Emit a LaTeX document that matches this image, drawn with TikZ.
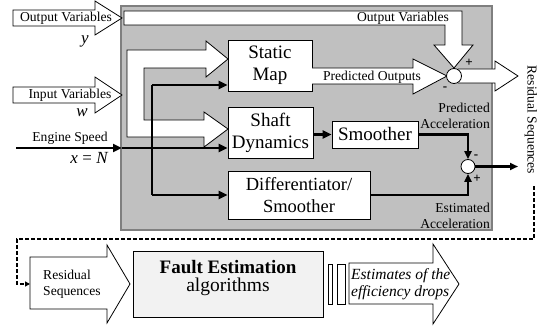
\documentclass[tikz,border=0pt]{standalone}
\usepackage{fontspec}
\setmainfont{Liberation Serif}
\usetikzlibrary{arrows.meta,calc}
\definecolor{panelgray}{HTML}{C0C0C0}
\definecolor{panelborder}{HTML}{7F7F7F}
\definecolor{faultfill}{HTML}{F2F2F2}
\begin{document}
\begin{tikzpicture}[x=1pt,y=-1pt,
  box/.style={draw=black,line width=0.8pt,fill=white,inner sep=0pt,align=center,font=\fontsize{19}{22}\selectfont},
  blockarrow/.style={draw=black,line width=0.8pt,fill=white,line join=miter},
  sig/.style={line width=2.5pt,-{Triangle[length=9pt,width=8pt]}},
  lbl/.style={font=\fontsize{13.6}{16}\selectfont,inner sep=0pt},
  mathlbl/.style={font=\fontsize{17}{20}\selectfont\itshape,inner sep=0pt},
  sumc/.style={circle,draw=black,line width=0.8pt,fill=white,minimum size=15pt,inner sep=0pt},
  pm/.style={font=\fontsize{13}{14}\selectfont\bfseries,inner sep=0pt},
]
\useasboundingbox (0,0) rectangle (543,326);

% panel
\node[draw=panelborder,fill=panelgray,line width=1.5pt,minimum width=371pt,minimum height=224pt,inner sep=0pt] (panel) at (306.5,118) {};

% external input arrows
\draw[blockarrow] (13,10) -- (95,10) -- (95,1) -- (122,18) -- (95,35) -- (95,26) -- (13,26) -- cycle;
\node[lbl] (outvar) at (66,18.5) {Output Variables};
\node[mathlbl] (ylab) at (85,41) {y};

\draw[blockarrow] (13,87) -- (95,87) -- (95,77) -- (122,95) -- (95,113) -- (95,103) -- (13,103) -- cycle;
\node[lbl] (invar) at (70,95.5) {Input Variables};
\node[mathlbl] (wlab) at (82,113) {w};

% top output-variables bar inside the panel
\draw[blockarrow] (124,11) -- (462,11) -- (462,45) -- (473,45) -- (454,68) -- (434,45) -- (445,45) -- (445,25) -- (124,25) -- cycle;
\node[lbl] (outvar2) at (403,18.5) {Output Variables};

% inner bracket arrow (input variables)
\draw[blockarrow] (127,50) -- (206,50) -- (206,41) -- (228,59) -- (206,77) -- (206,68) -- (144,68) -- (144,120) -- (204,120) -- (204,112) -- (228,129) -- (204,147) -- (204,137) -- (127,137) -- cycle;

% boxes
\node[box,minimum width=84pt,minimum height=51pt] (static) at (270,65.5) {Static\\Map};
\node[box,minimum width=85pt,minimum height=51pt] (shaft) at (270.5,132.5) {Shaft\\Dynamics};
\node[box,minimum width=86pt,minimum height=27pt] (smooth) at (375,134.5) {Smoother};
\node[box,font=\fontsize{18.5}{22}\selectfont,minimum width=142pt,minimum height=48pt] (diff) at (299,195) {Differentiator/\\Smoother};

% predicted outputs arrow
\draw[blockarrow] (312,68) -- (413,68) -- (413,59) -- (447,76) -- (413,94) -- (413,84) -- (312,84);
\node[lbl] (predout) at (372,77) {Predicted Outputs};

% residual output arrow
\draw[blockarrow] (458,69) -- (495,69) -- (495,61) -- (518,76) -- (495,91) -- (495,83) -- (458,83);

% summing junctions
\node[sumc] (sum1) at (454,76) {};
\node[pm] at (469,63) {+};
\node[pm] at (445,89) {-};
\node[sumc,minimum size=14pt] (sum2) at (468,166.5) {};
\node[pm] at (476,157) {-};
\node[pm] at (477,179) {+};

% engine speed and branches
\coordinate (esIn) at (16,148);
\coordinate (esBox) at (122,148);
\coordinate (br) at (152,148);
\coordinate (smY) at (152,85);
\coordinate (dfY) at (152,195);
\node[lbl] (eslab) at (70,138.5) {Engine Speed};
\node[mathlbl,anchor=east] (xnlab) at (108,158) {x\hspace{4.5pt}{\upshape=}\hspace{4.5pt}N};
\draw[sig] (esIn) -- (esBox);
\draw[sig] (esBox) -- (shaft.west |- esBox);
\draw[line width=2.5pt] (br) -- (smY);
\draw[sig] (smY) -- (static.west |- smY);
\draw[line width=2.5pt] (br) -- (dfY);
\draw[sig] (dfY) -- (diff.west |- dfY);

\draw[sig] (shaft.east |- smooth.west) -- (smooth.west);
\draw[line width=2.2pt,-{Triangle[length=8pt,width=7pt]}] (smooth.east) -| (sum2.north);
\draw[line width=2.2pt,-{Triangle[length=8pt,width=7pt]}] (diff.east) -| (sum2.south);
\coordinate (resOut) at (518,166.5);
\draw[line width=2.2pt,-{Triangle[length=8pt,width=7pt]}] (sum2.east) -- (resOut);

\node[lbl,align=right,anchor=east] (predacc) at (490,116) {Predicted\\Acceleration};
\node[lbl,align=right,anchor=east] (estacc) at (490,216) {Estimated\\Acceleration};

\node[lbl,rotate=-90] (ressq) at (531,120) {Residual Sequences};

% bottom row
\draw[blockarrow] (30,257) -- (107,257) -- (107,245) -- (130,284) -- (107,323) -- (107,309) -- (30,309) -- cycle;
\coordinate (resIn) at (30,284);
\node[lbl,align=left,anchor=west] (reslab) at (43,284) {Residual\\Sequences};

\node[draw=black,line width=0.8pt,fill=faultfill,minimum width=190pt,minimum height=66pt,inner sep=0pt] (fault) at (228,284) {};
\node[inner sep=0pt,font=\fontsize{19}{20}\selectfont\bfseries] (faulttxt) at (228,267) {Fault Estimation};
\node[inner sep=0pt,font=\fontsize{19.5}{20}\selectfont] (algtxt) at (228,287) {algorithms};

\draw[line width=0.8pt,fill=white] (328,264) rectangle (332,304);
\draw[line width=0.8pt,fill=white] (337,264) rectangle (345,304);

\draw[blockarrow] (349,263) -- (433,263) -- (433,244) -- (459,284) -- (433,324) -- (433,304) -- (349,304) -- cycle;
\node[align=left,anchor=west,inner sep=0pt,font=\fontsize{15.5}{17}\selectfont\itshape] (esttxt) at (351,284) {Estimates of the\\efficiency drops};

% dashed feedback
\coordinate (d1) at (534,186);
\coordinate (d2) at (534,239);
\coordinate (d3) at (17,239);
\coordinate (d4) at (17,284);
\draw[line width=1.6pt,dash pattern=on 4pt off 2pt,-{Triangle[length=5pt,width=5pt]}] (d1) -- (d2) -- (d3) -- (d4) -- (resIn);
\end{tikzpicture}
\end{document}
